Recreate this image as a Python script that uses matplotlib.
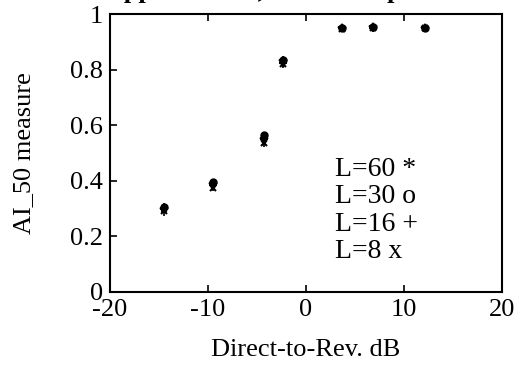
import numpy as np
import matplotlib
matplotlib.use('Agg')
import matplotlib.pyplot as plt

## data
drr_db = [-14.5, -9.5, -4.3, -2.3, 3.7, 6.8, 12.1]
ai50_L60 = [0.300, 0.390, 0.550, 0.830, 0.950, 0.952, 0.950]
ai50_L30 = [0.305, 0.395, 0.565, 0.835, 0.950, 0.952, 0.950]
ai50_L16 = [0.300, 0.385, 0.550, 0.825, 0.948, 0.950, 0.950]
ai50_L8 = [0.290, 0.375, 0.535, 0.820, 0.945, 0.950, 0.950]
err = [0.015, 0.012, 0.012, 0.015, 0.008, 0.006, 0.006]
labels = ['L=60 *', 'L=30 o', 'L=16 +', 'L=8 x']

plt.rcParams['font.family'] = ['Liberation Serif', 'DejaVu Serif']
plt.rcParams['axes.unicode_minus'] = False

fig = plt.figure(figsize=(5.2, 3.66), dpi=100)
ax = fig.add_axes([0.2115, 0.2022, 0.7539, 0.7595])

series = [(ai50_L60, '*', 6), (ai50_L30, 'o', 4.5), (ai50_L16, '+', 6), (ai50_L8, 'x', 5)]
for yy, mk, ms in series:
    ax.errorbar(drr_db, yy, yerr=err, fmt=mk, ms=ms, color='k', mfc='k', mew=1.5,
                elinewidth=1.2, capsize=0)

ax.set_xlim(-20, 20)
ax.set_ylim(0, 1)
ax.set_xticks([-20, -10, 0, 10, 20])
ax.set_yticks([0, 0.2, 0.4, 0.6, 0.8, 1])
ax.set_yticklabels(['0', '0.2', '0.4', '0.6', '0.8', '1'])
ax.tick_params(direction='in', length=5, width=1.2, labelsize=19, top=True)
ax.tick_params(axis='x', pad=5)
ax.tick_params(axis='y', pad=5)
for s in ax.spines.values():
    s.set_linewidth(1.5)

ax.set_xlabel('Direct-to-Rev. dB', fontsize=19, labelpad=13)
ax.set_ylabel('AI_50 measure', fontsize=19)
ax.yaxis.set_label_coords(-0.19, 0.5)

# legend written as text lines
for i, lab in enumerate(labels):
    ax.text(3.0, 0.442 - i * 0.099, lab, fontsize=20, va='center', ha='left')

# title, mostly cut off at the top edge
fig.text(0.58, 1.022, '4 pp elements, 8-element processor.', fontsize=19,
         fontweight='bold', ha='center', va='center')

fig.savefig('out.png', dpi=100)
